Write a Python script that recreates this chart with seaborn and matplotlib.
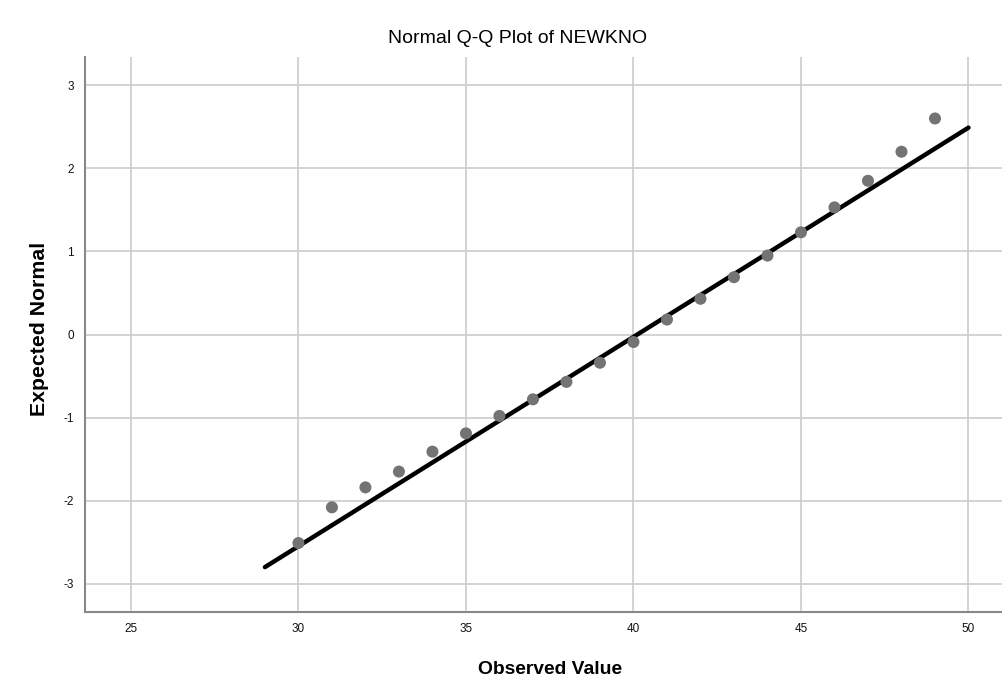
import pandas as pd
import seaborn as sns
import matplotlib.pyplot as plt

# observed values and their expected normal scores
observed = [30, 31, 32, 33, 34, 35, 36, 37, 38, 39, 40, 41, 42, 43, 44, 45, 46, 47, 48, 49]
expected = [-2.51, -2.08, -1.84, -1.65, -1.41, -1.19, -0.98, -0.78, -0.57, -0.34,
            -0.09, 0.18, 0.43, 0.69, 0.95, 1.23, 1.53, 1.85, 2.20, 2.60]

# reference line end points
line_x = [29, 50]
line_y = [-2.80, 2.49]

x_ticks = [25, 30, 35, 40, 45, 50]
y_ticks = [-3, -2, -1, 0, 1, 2, 3]


def plot_qq(points, line):
    sns.set_style("whitegrid")
    plt.rcParams['font.family'] = ['Liberation Sans', 'DejaVu Sans']
    plt.rcParams['axes.unicode_minus'] = False

    fig = plt.figure(figsize=(10.02, 6.81), dpi=100)
    ax = fig.add_axes([85 / 1002, 1 - 612 / 681, 917 / 1002, 555 / 681])

    sns.lineplot(data=line, x='x', y='y', color='black', linewidth=3.2, ax=ax, zorder=2)
    sns.scatterplot(data=points, x='observed', y='expected', color='#737373', s=75,
                    edgecolor='none', ax=ax, zorder=3)

    ax.set_xlim(23.63, 51.0)
    ax.set_ylim(-3.34, 3.34)
    ax.set_xticks(x_ticks)
    ax.set_yticks(y_ticks)
    ax.tick_params(axis='both', length=0, labelsize=8.5, labelcolor='#111111', pad=8)

    ax.grid(True, color='#cccccc', linewidth=1.2)
    for side in ['top', 'right']:
        ax.spines[side].set_visible(False)
    for side in ['left', 'bottom']:
        ax.spines[side].set_color('#888888')
        ax.spines[side].set_linewidth(1.5)

    ax.set_title('Normal Q-Q Plot of NEWKNO', fontsize=14, color='black',
                 x=0.472, y=1.034, va='center', pad=0)
    ax.set_xlabel('Observed Value', fontsize=13.9, fontweight='bold', color='black')
    ax.set_ylabel('Expected Normal', fontsize=15.3, fontweight='bold', color='black')
    ax.xaxis.set_label_coords(0.507, -0.104)
    ax.xaxis.label.set_va('center')
    ax.yaxis.set_label_coords(-0.050, 0.510)
    ax.yaxis.label.set_va('center')

    fig.savefig('out.png', dpi=100)


if __name__ == "__main__":
    points = pd.DataFrame({'observed': observed, 'expected': expected})
    line = pd.DataFrame({'x': line_x, 'y': line_y})
    plot_qq(points, line)
